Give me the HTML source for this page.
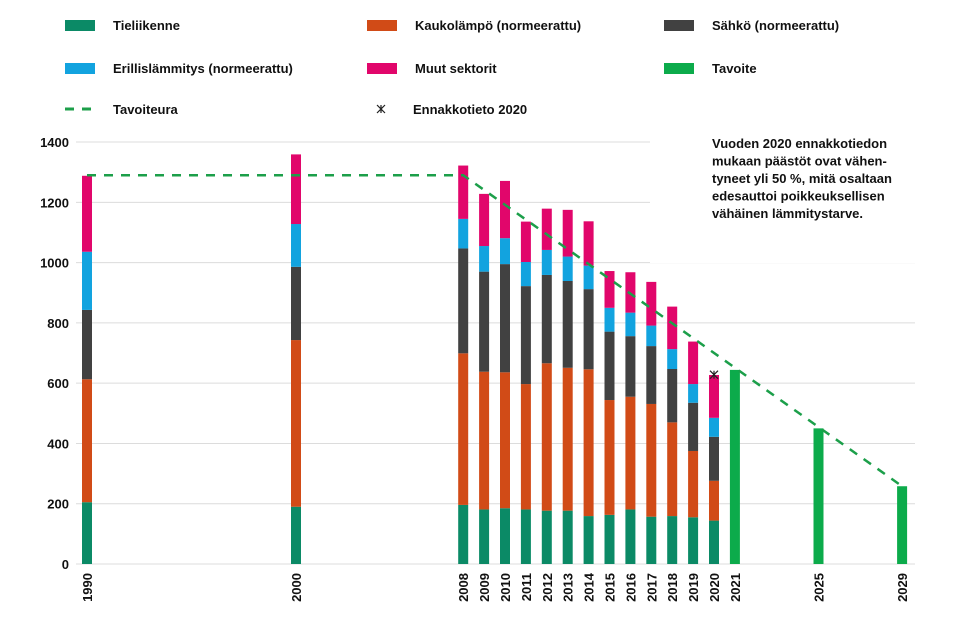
<!DOCTYPE html>
<html><head><meta charset="utf-8"><style>
body{margin:0;background:#fff;width:969px;height:621px;overflow:hidden;font-family:"Liberation Sans",Arial,sans-serif}
svg text{font-family:"Liberation Sans",Arial,sans-serif;font-weight:bold;fill:#111}
</style></head><body>
<svg id="chart" width="969" height="621"></svg>
<script>
const years=[1990,2000,2008,2009,2010,2011,2012,2013,2014,2015,2016,2017,2018,2019,2020];
const tieliikenne=[205,190,196,181,185,181,177,177,159,163,181,157,159,155,144];
const kaukolampo=[408,553,503,457,451,416,489,474,487,381,374,374,311,220,132];
const sahko=[230,243,348,332,359,325,293,288,266,227,201,192,177,160,146];
const erillis=[193,142,98,85,86,80,83,81,78,79,78,68,66,62,63];
const muut=[252,231,177,173,190,134,137,155,147,122,134,145,141,141,142];
const targetYears=[2021,2025,2029];
const targetValues=[644,450,258];
const pathYears=[1990,2008,2029];
const pathValues=[1290,1290,258];
const estimateYear=2020, estimateValue=628;
const yTicks=[0,200,400,600,800,1000,1200,1400];
const xLabels=[1990,2000,2008,2009,2010,2011,2012,2013,2014,2015,2016,2017,2018,2019,2020,2021,2025,2029];

const NS="http://www.w3.org/2000/svg";
const svg=document.getElementById('chart');
function el(t,a,p){const e=document.createElementNS(NS,t);for(const k in a)e.setAttribute(k,a[k]);(p||svg).appendChild(e);return e;}
const X=y=>87+(y-1990)*20.9;
const Y=v=>564-v*0.3014;
const BW=10;
// grid
yTicks.forEach(t=>{
 const g=el('line',{x1:76,x2:915,y1:Y(t),y2:Y(t),stroke:'#dcdcdc','stroke-width':1});
 
 
 const tx=el('text',{x:69,y:Y(t)+5,'text-anchor':'end','font-size':13});
 tx.textContent=t;
 
 
});
// annotation background
const bg=el('rect',{x:650,y:135,width:300,height:128,fill:'#fff'});


const series=[[tieliikenne,'#0b8a66','tieliikenne'],[kaukolampo,'#d14b17','kaukolampo'],[sahko,'#414141','sahko'],[erillis,'#12a3df','erillislammitys'],[muut,'#e1066b','muut']];
years.forEach((yr,i)=>{
 let base=0;
 series.forEach(([arr,col,nm])=>{
  const v=arr[i];
  const r=el('rect',{x:X(yr)-BW/2,y:Y(base+v),width:BW,height:Y(base)-Y(base+v),fill:col});
  
  
  base+=v;
 });
});
targetYears.forEach((yr,i)=>{
 const r=el('rect',{x:X(yr)-BW/2,y:Y(targetValues[i]),width:BW,height:Y(0)-Y(targetValues[i]),fill:'#0cab4b'});
 
 
});
const pl=el('polyline',{points:pathYears.map((y,i)=>X(y)+','+Y(pathValues[i])).join(' '),fill:'none',stroke:'#1c9f4a','stroke-width':2.5,'stroke-dasharray':'9,8'});


const ex=X(estimateYear),ey=Y(estimateValue);
const mk=el('path',{d:`M${ex-4},${ey-4}L${ex+4},${ey+4}M${ex-4},${ey+4}L${ex+4},${ey-4}M${ex},${ey-4}L${ex},${ey+4}`,stroke:'#222','stroke-width':1.2});


xLabels.forEach(yr=>{
 const t=el('text',{transform:`translate(${X(yr)+5},573) rotate(-90)`,'text-anchor':'end','font-size':13});
 t.textContent=yr;
 
 
});
// annotation
const ann=["Vuoden 2020 ennakkotiedon","mukaan päästöt ovat vähen-","tyneet yli 50 %, mitä osaltaan","edesauttoi poikkeuksellisen","vähäinen lämmitystarve."];
ann.forEach((s,i)=>{
 const t=el('text',{x:712,y:148+i*17.5,'font-size':13});
 t.textContent=s;
 
 
});
// legend
const leg=[['Tieliikenne','#0b8a66',65,25],['Kaukolämpö (normeerattu)','#d14b17',367,25],['Sähkö (normeerattu)','#414141',664,25],['Erillislämmitys (normeerattu)','#12a3df',65,68],['Muut sektorit','#e1066b',367,68],['Tavoite','#0cab4b',664,68]];
leg.forEach(([n,c,x,y])=>{
 const g=el('g',{});
 
 
 el('rect',{x:x,y:y-5,width:30,height:11,fill:c},g);
 const t=el('text',{x:x+48,y:y+5,'font-size':13},g);t.textContent=n;
});
const g1=el('g',{});


el('line',{x1:65,x2:97,y1:109,y2:109,stroke:'#1c9f4a','stroke-width':3,'stroke-dasharray':'9,8'},g1);
const t1=el('text',{x:113,y:114,'font-size':13},g1);t1.textContent='Tavoiteura';
const g2=el('g',{});


el('path',{d:'M377,105L385,113M377,113L385,105M381,105L381,113',stroke:'#222','stroke-width':1.2},g2);
const t2=el('text',{x:413,y:114,'font-size':13},g2);t2.textContent='Ennakkotieto 2020';
</script>
</body></html>
